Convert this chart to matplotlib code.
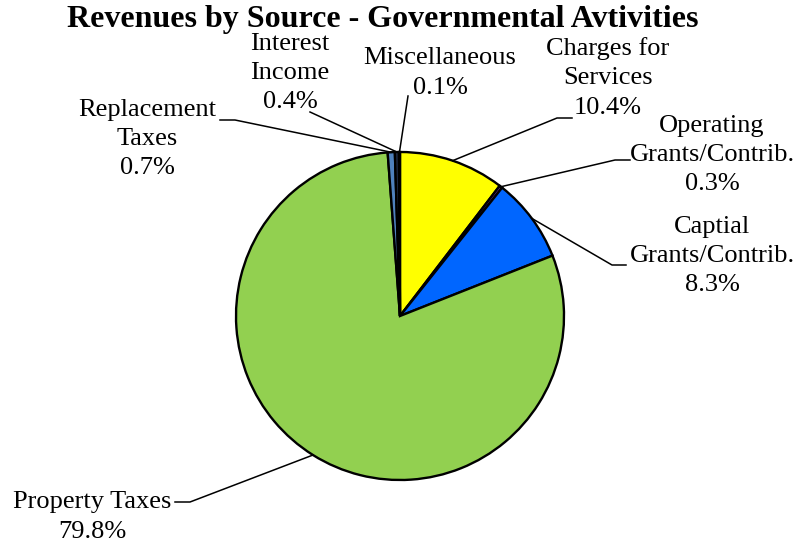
import numpy as np
import matplotlib
matplotlib.use("Agg")
import matplotlib.pyplot as plt

categories = ["Charges for\nServices", "Operating\nGrants/Contrib.", "Captial\nGrants/Contrib.",
              "Property Taxes", "Replacement\nTaxes", "Interest\nIncome", "Miscellaneous"]
values = [10.4, 0.3, 8.3, 79.8, 0.7, 0.4, 0.1]
pct_labels = ["10.4%", "0.3%", "8.3%", "79.8%", "0.7%", "0.4%", "0.1%"]
colors = ["#FFFF00", "#7030A0", "#0066FF", "#92D050", "#4F81BD", "#1F2A44", "#FF0000"]

W, H = 798, 548
# layout (pixel coordinates from top-left): text centre, elbow point, tick end
text_pos = [(608, 78), (712, 155), (712, 256), (92, 517), (147, 139), (290, 73), (440, 73)]
elbows = [(557, 118), (615, 160), (612, 265), (190, 502), (235, 120), (310, 112), (408, 96)]
ticks = [(572, 118), (630, 160), (626, 265), (175, 502), (220, 120), (310, 112), (408, 96)]
full_labels = [c + "\n" + p for c, p in zip(categories, pct_labels)]


def up(p):
    return (p[0], H - p[1])


fig = plt.figure(figsize=(W / 100, H / 100), dpi=100)
ax = fig.add_axes([0, 0, 1, 1])

cx, cy, r = 400, H - 316, 164
wedges, _ = ax.pie(values, colors=colors, startangle=90, counterclock=False,
                   center=(cx, cy), radius=r, frame=True,
                   wedgeprops=dict(edgecolor="black", linewidth=1.7))
ax.set_xlim(0, W)
ax.set_ylim(0, H)
ax.set_aspect("equal")
ax.axis("off")

serif = ["Times New Roman", "Liberation Serif", "DejaVu Serif"]
for w, lab, tp, el, tk in zip(wedges, full_labels, text_pos, elbows, ticks):
    ang = np.deg2rad((w.theta1 + w.theta2) / 2)
    ex = cx + r * np.cos(ang)
    ey = cy + r * np.sin(ang)
    el, tk, tp = up(el), up(tk), up(tp)
    ax.plot([ex, el[0], tk[0]], [ey, el[1], tk[1]], color="black", lw=1.1)
    ax.text(tp[0], tp[1], lab, ha="center", va="center", fontsize=19,
            family=serif, linespacing=1.42)

ax.text(383, H - 20, "Revenues by Source - Governmental Avtivities", ha="center", va="center",
        fontsize=23, fontweight="bold", family=serif)

fig.savefig("out.png", dpi=100)
